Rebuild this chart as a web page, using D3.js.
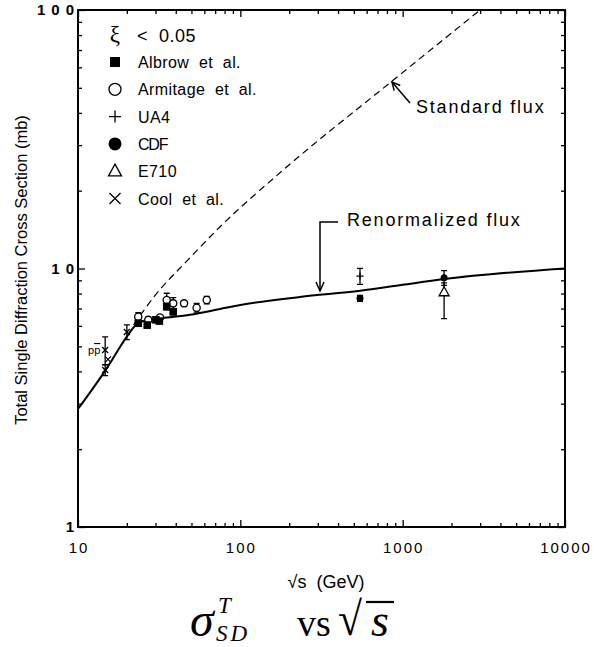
<!DOCTYPE html>
<html><head><meta charset="utf-8">
<script src="https://cdn.jsdelivr.net/npm/d3@7"></script>
<style>body{margin:0;background:#fff}svg{display:block}</style>
</head><body>
<svg id="chart" width="608" height="647"></svg>
<script>
// Axis extents and tick labels
const xDomain = [10, 10000];
const yDomain = [1, 100];
const xTickValues = [10, 100, 1000, 10000];
const xTickLabels = ["10", "100", "1000", "10000"];
const yTickValues = [1, 10, 100];
const yTickLabels = ["1", "10", "100"];

// Renormalized flux prediction (solid)
const renormS     = [10, 15, 20, 23, 26, 33, 49, 75, 100, 233, 547, 1000, 1800, 10000];
const renormSigma = [2.86, 4.1, 5.45, 6.1, 6.3, 6.43, 6.62, 6.97, 7.22, 7.76, 8.2, 8.65, 9.1, 10.0];

// Standard flux prediction (dashed)
const standardS     = [22, 30, 47.6, 75, 183, 861, 3000];
const standardSigma = [6.05, 7.9, 10.8, 14.5, 24.0, 53.1, 100];

// Measurements: sqrt(s) in GeV, sigma in mb, errors in mb
const albrowS     = [23.5, 26.7, 30.2, 31.7, 35.2, 38.6];
const albrowSigma = [6.14, 6.04, 6.33, 6.26, 7.12, 6.80];
const albrowErr   = [0.15, 0.15, 0.12, 0.12, 0.2, 0.18];

const armitageS     = [23.5, 27.1, 32, 35.2, 38.6, 45, 53.8, 62.1];
const armitageSigma = [6.51, 6.33, 6.47, 7.55, 7.33, 7.33, 7.05, 7.55];
const armitageErr   = [0.24, 0.15, 0.15, 0.47, 0.38, 0.15, 0.27, 0.25];

const ua4S = [546], ua4Sigma = [9.35], ua4Err = [0.67];

const cdfS = [546, 1800], cdfSigma = [7.67, 9.21], cdfErr = [0.2, 0.6];

const e710S = [1800], e710Sigma = [8.1], e710ErrUp = [0.7], e710ErrDown = [1.7];

const coolS     = [14.7, 14.7, 15.3, 20];
const coolSigma = [4.84, 4.05, 4.45, 5.68];
const coolErr   = [0.6, 0.2, 0, 0.37];

// Legend entries
const legendLabels = ["Albrow  et  al.", "Armitage  et  al.", "UA4", "CDF", "E710", "Cool  et  al."];
const legendMarkers = ["square", "circle", "plus", "dot", "triangle", "cross"];

const svg = d3.select("#chart");
const x = d3.scaleLog().domain(xDomain).range([78, 565]);
const y = d3.scaleLog().domain(yDomain).range([527, 10]);

const sans = "'Liberation Sans', Arial, Helvetica, sans-serif";
const serif = "'Liberation Serif', 'DejaVu Serif', 'Times New Roman', serif";

// ---- ticks (inward on all four sides) ----
function minorValues(dom) {
  const out = [];
  for (let d = dom[0]; d < dom[1]; d *= 10)
    for (let k = 2; k <= 9; k++) out.push(d * k);
  return out;
}
const xMinor = minorValues(xDomain), yMinor = minorValues(yDomain);
const axes = svg.append("g").attr("class", "axes");
function addAxis(axisFn, scale, vals, size, transform) {
  const g = axes.append("g").attr("transform", transform)
    .call(axisFn(scale).tickValues(vals).tickSize(-size).tickFormat(""));
  g.select(".domain").remove();
  g.selectAll(".tick line").attr("stroke", "#000").attr("stroke-width", 1.3);
}
addAxis(d3.axisBottom, x, xMinor, 4, "translate(0,527)");
addAxis(d3.axisBottom, x, xTickValues, 7, "translate(0,527)");
addAxis(d3.axisTop, x, xMinor, 4, "translate(0,10)");
addAxis(d3.axisTop, x, xTickValues, 7, "translate(0,10)");
addAxis(d3.axisLeft, y, yMinor, 4, "translate(78,0)");
addAxis(d3.axisLeft, y, yTickValues, 7, "translate(78,0)");
addAxis(d3.axisRight, y, yMinor, 4, "translate(565,0)");
addAxis(d3.axisRight, y, yTickValues, 7, "translate(565,0)");

// frame
svg.append("rect").attr("x", 78).attr("y", 10).attr("width", 565 - 78).attr("height", 527 - 10)
  .attr("fill", "none").attr("stroke", "#000").attr("stroke-width", 2);

// tick labels
svg.append("g").selectAll("text").data(xTickValues).join("text")
  .attr("x", d => x(d) + 1).attr("y", 553)
  .attr("text-anchor", "middle")
  .attr("font-family", sans).attr("font-size", 15).attr("letter-spacing", 2)
  .text((d, i) => xTickLabels[i]);
svg.append("g").selectAll("text").data(yTickValues).join("text")
  .attr("x", 80).attr("y", d => y(d) + 5)
  .attr("text-anchor", "end")
  .attr("font-family", sans).attr("font-size", 15).attr("font-weight", "bold").attr("letter-spacing", 6)
  .text((d, i) => yTickLabels[i]);

// axis titles
svg.append("text").attr("transform", "translate(27,270) rotate(-90)")
  .attr("text-anchor", "middle").attr("font-family", sans).attr("font-size", 16.5)
  .text("Total Single Diffraction Cross Section (mb)");
const xt = svg.append("text").attr("x", 326).attr("y", 588).attr("text-anchor", "middle")
  .attr("font-family", sans).attr("font-size", 18);
xt.append("tspan").text("\u221As");
xt.append("tspan").attr("dx", 10).text("(GeV)");

// ---- curves ----
svg.append("clipPath").attr("id", "plotclip")
  .append("rect").attr("x", 78).attr("y", 10).attr("width", 487).attr("height", 517);
const line = d3.line().x(d => x(d[0])).y(d => y(d[1])).curve(d3.curveMonotoneX);
svg.append("path").attr("clip-path", "url(#plotclip)")
  .attr("d", line(standardS.map((s, i) => [s, standardSigma[i]])))
  .attr("fill", "none").attr("stroke", "#000").attr("stroke-width", 1.2).attr("stroke-dasharray", "7,4.5");
svg.append("path").attr("clip-path", "url(#plotclip)")
  .attr("d", line(renormS.map((s, i) => [s, renormSigma[i]])))
  .attr("fill", "none").attr("stroke", "#000").attr("stroke-width", 2);

// ---- markers ----
function drawMarker(g, type, cx, cy, r) {
  const sw = 1.3;
  if (type === "square") {
    g.append("rect").attr("x", cx - r).attr("y", cy - r).attr("width", 2 * r).attr("height", 2 * r).attr("fill", "#000");
  } else if (type === "circle") {
    g.append("circle").attr("cx", cx).attr("cy", cy).attr("r", r).attr("fill", "#fff").attr("stroke", "#000").attr("stroke-width", sw);
  } else if (type === "dot") {
    g.append("circle").attr("cx", cx).attr("cy", cy).attr("r", r).attr("fill", "#000");
  } else if (type === "plus") {
    g.append("path").attr("d", `M${cx - r},${cy}H${cx + r}M${cx},${cy - r}V${cy + r}`).attr("stroke", "#000").attr("stroke-width", sw);
  } else if (type === "cross") {
    g.append("path").attr("d", `M${cx - r},${cy - r}L${cx + r},${cy + r}M${cx - r},${cy + r}L${cx + r},${cy - r}`).attr("stroke", "#000").attr("stroke-width", sw);
  } else if (type === "triangle") {
    const h = r * 1.8;
    g.append("path").attr("d", `M${cx},${cy - h * 0.6}L${cx + r},${cy + h * 0.4}L${cx - r},${cy + h * 0.4}Z`)
      .attr("fill", "#fff").attr("stroke", "#000").attr("stroke-width", sw);
  }
}
function drawSeries(type, xs, ys, errUp, errDown, r) {
  const g = svg.append("g");
  xs.forEach((s, i) => {
    const cx = x(s), cy = y(ys[i]);
    const up = errUp[i], dn = errDown[i];
    if (up > 0 || dn > 0) {
      const yt = y(ys[i] + up), yb = y(ys[i] - dn);
      g.append("path").attr("d", `M${cx},${yt}V${yb}M${cx - 3},${yt}H${cx + 3}M${cx - 3},${yb}H${cx + 3}`)
        .attr("stroke", "#000").attr("stroke-width", 1.3).attr("fill", "none");
    }
    drawMarker(g, type, cx, cy, r);
  });
}
drawSeries("circle", armitageS, armitageSigma, armitageErr, armitageErr, 3.6);
drawSeries("square", albrowS, albrowSigma, albrowErr, albrowErr, 3.8);
drawSeries("cross", coolS, coolSigma, coolErr, coolErr, 3);
drawSeries("plus", ua4S, ua4Sigma, ua4Err, ua4Err, 3.5);
drawSeries("triangle", e710S, e710Sigma, e710ErrUp, e710ErrDown, 5);
drawSeries("dot", cdfS, cdfSigma, cdfErr, cdfErr, 3.5);

// p pbar tag
const pp = svg.append("text").attr("x", 88).attr("y", 354).attr("font-family", sans).attr("font-size", 11);
pp.append("tspan").text("p");
pp.append("tspan").attr("text-decoration", "overline").text("p");

// ---- legend ----
const leg = svg.append("g");
leg.append("text").attr("x", 115).attr("y", 42).attr("text-anchor", "middle")
  .attr("font-family", serif).attr("font-size", 23).text("\u03BE");
leg.append("text").attr("x", 137).attr("y", 42).attr("font-family", sans).attr("font-size", 18)
  .attr("letter-spacing", 0.5).style("white-space", "pre").text("<  0.05");
const legendSizes = { square: 5, circle: 6, plus: 6, dot: 6.5, triangle: 6.5, cross: 5.5 };
legendLabels.forEach((lab, i) => {
  const cy = 62 + i * 27.3;
  drawMarker(leg, legendMarkers[i], 115, cy, legendSizes[legendMarkers[i]]);
  leg.append("text").attr("x", 138).attr("y", cy + 6)
    .attr("font-family", sans).attr("font-size", 16)
    .attr("letter-spacing", lab === "CDF" ? -1.2 : 0.4)
    .style("white-space", "pre").text(lab);
});

// ---- annotations ----
function arrowHead(g, tipX, tipY, dirX, dirY, len, half) {
  const n = Math.hypot(dirX, dirY), ux = dirX / n, uy = dirY / n;
  const bx = tipX - ux * len, by = tipY - uy * len;
  g.append("path").attr("d",
    `M${bx - uy * half},${by + ux * half}L${tipX},${tipY}L${bx + uy * half},${by - ux * half}`)
    .attr("fill", "none").attr("stroke", "#000").attr("stroke-width", 1.5);
}
const ann = svg.append("g");
ann.append("text").attr("x", 416).attr("y", 113).attr("font-family", sans).attr("font-size", 18)
  .attr("letter-spacing", 1.8).text("Standard flux");
ann.append("path").attr("d", "M410,103L392,82").attr("stroke", "#000").attr("stroke-width", 1.5);
arrowHead(ann, 392, 82, -18, -21, 8, 4);

ann.append("text").attr("x", 347).attr("y", 226).attr("font-family", sans).attr("font-size", 18)
  .attr("letter-spacing", 1.8).text("Renormalized flux");
ann.append("path").attr("d", "M338,222H320V290").attr("fill", "none").attr("stroke", "#000").attr("stroke-width", 1.5);
arrowHead(ann, 320, 291, 0, 1, 9, 4);

// ---- caption: sigma_SD^T vs sqrt(s) ----
const cap = svg.append("g").attr("font-family", serif).attr("fill", "#000");
cap.append("text").attr("x", 190).attr("y", 636).attr("font-size", 48).attr("font-style", "italic").text("\u03C3");
cap.append("text").attr("x", 218).attr("y", 613).attr("font-size", 23).attr("font-style", "italic").text("T");
cap.append("text").attr("x", 216).attr("y", 641).attr("font-size", 23).attr("font-style", "italic")
  .attr("letter-spacing", 3).text("SD");
cap.append("text").attr("x", 297).attr("y", 636).attr("font-size", 38).text("vs");
cap.append("text").attr("transform", "translate(338,635) scale(1.15,1.25)")
  .attr("font-size", 38).text("\u221A");
cap.append("line").attr("x1", 366).attr("x2", 394).attr("y1", 602).attr("y2", 602)
  .attr("stroke", "#000").attr("stroke-width", 2.2);
cap.append("text").attr("x", 371).attr("y", 636).attr("font-size", 46).attr("font-style", "italic").text("s");
</script></body></html>
